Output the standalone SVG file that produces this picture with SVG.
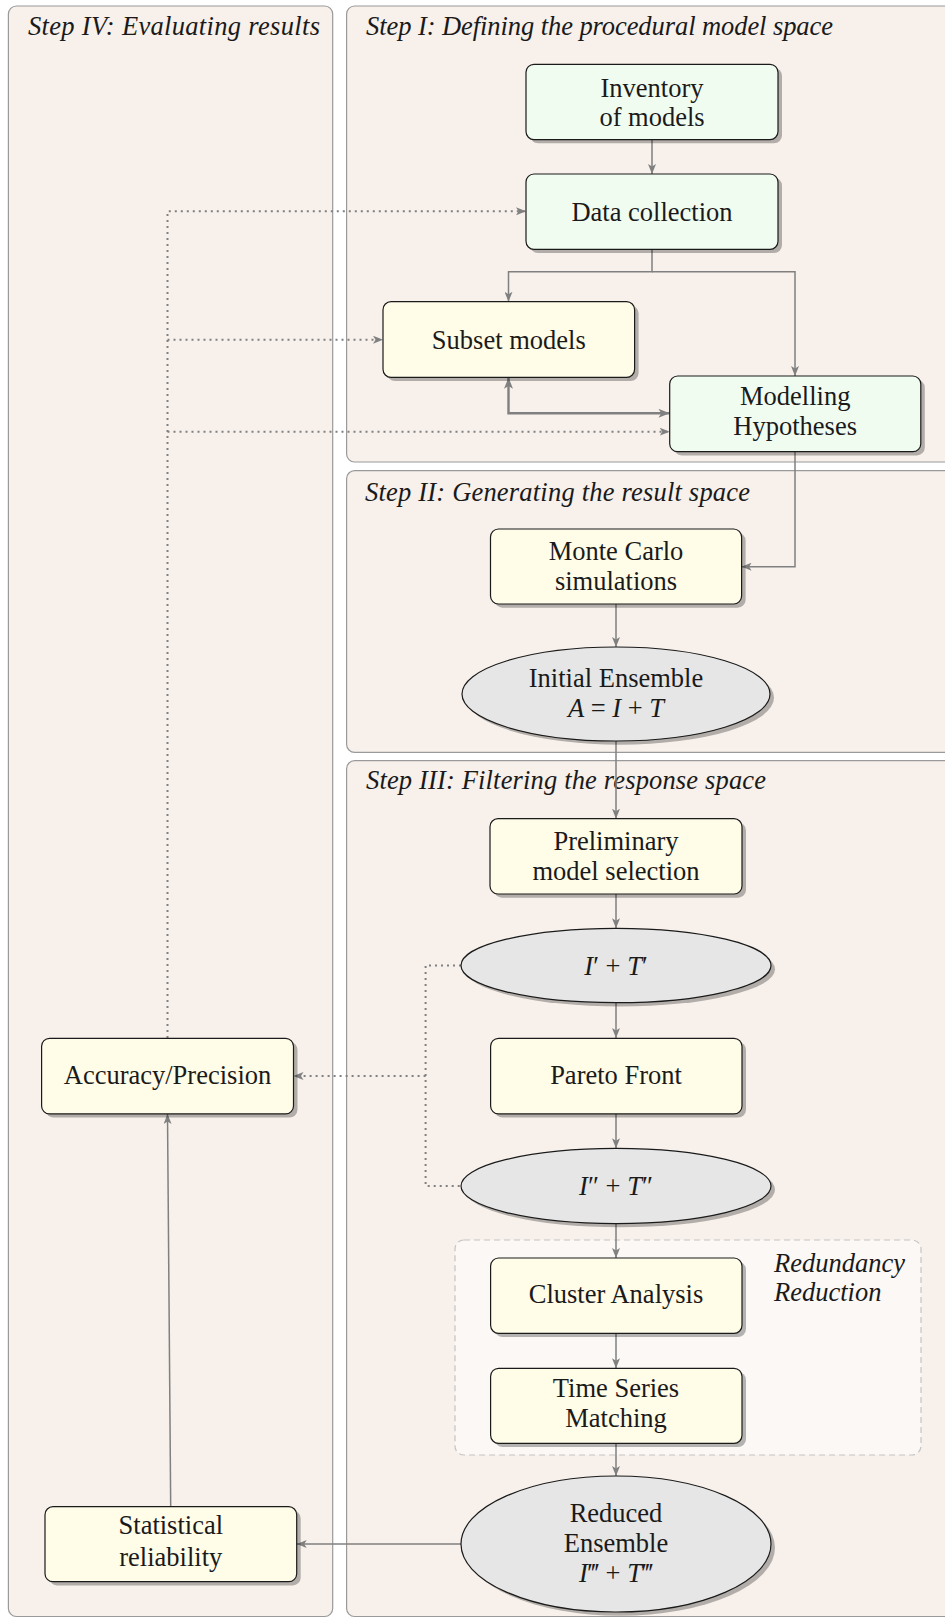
<svg xmlns="http://www.w3.org/2000/svg" width="945" height="1618" viewBox="0 0 945 1618">
<style>
.panel{fill:#f7f0eb;stroke:#9a9a9a;stroke-width:1.2}
.title{font-family:"Liberation Serif","DejaVu Serif",serif;font-style:italic;font-size:26.5px;fill:#1a1a1a}
.t{font-family:"Liberation Serif","DejaVu Serif",serif;font-size:26.5px;fill:#1a1a1a;text-anchor:middle}
.i{font-style:italic}
.green{fill:#f1fcf1;stroke:#1a1a1a;stroke-width:1.2}
.yellow{fill:#fffce8;stroke:#1a1a1a;stroke-width:1.2}
.ell{fill:#e6e6e6;stroke:#1a1a1a;stroke-width:1.2}
.shadow{fill:#000;fill-opacity:0.28}
.conn{fill:none;stroke:#808080;stroke-width:1.5}
.thick{fill:none;stroke:#808080;stroke-width:2.4}
.dot{fill:none;stroke:#808080;stroke-width:2;stroke-dasharray:2 4}
.red{fill:#fbf8f6;stroke:#c4c4c4;stroke-width:1.2;stroke-dasharray:6 4}
</style>
<defs>
<marker id="arr" viewBox="0 0 10 8" refX="10" refY="4" markerWidth="10" markerHeight="8" markerUnits="userSpaceOnUse" orient="auto-start-reverse">
<path d="M0,0 L10,4 L0,8 L2.5,4 z" fill="#808080"/>
</marker>
<marker id="arrB" viewBox="0 0 10 8" refX="10" refY="4" markerWidth="12" markerHeight="9" markerUnits="userSpaceOnUse" orient="auto-start-reverse">
<path d="M0,0 L10,4 L0,8 L2.5,4 z" fill="#808080"/>
</marker>
</defs>

<g id="panels">
<rect class="panel" x="8.4" y="6" width="324.3" height="1610.5" rx="8"/>
<rect class="panel" x="346.6" y="6" width="620" height="456" rx="8"/>
<rect class="panel" x="346.6" y="470.7" width="620" height="281.6" rx="8"/>
<rect class="panel" x="346.6" y="760.7" width="620" height="855.8" rx="8"/>
<text class="title" x="28" y="35" textLength="292" lengthAdjust="spacing">Step IV: Evaluating results</text>
<text class="title" x="366" y="35" textLength="467" lengthAdjust="spacing">Step I: Defining the procedural model space</text>
<text class="title" x="365" y="500.7" textLength="385" lengthAdjust="spacing">Step II: Generating the result space</text>
<text class="title" x="366" y="789" textLength="400" lengthAdjust="spacing">Step III: Filtering the response space</text>
</g>

<g id="redundancy">
<rect class="red" x="455" y="1240" width="466" height="215" rx="9"/>
<text class="title" x="774" y="1271.7">Redundancy</text>
<text class="title" x="774" y="1300.5">Reduction</text>
</g>

<g id="connectors">
<path class="conn" d="M652,139.5 L652,174" marker-end="url(#arr)"/>
<path class="conn" d="M652,249.5 L652,271.7 L508.5,271.7 L508.5,301.7" marker-end="url(#arr)"/>
<path class="conn" d="M652,271.7 L795,271.7 L795,376" marker-end="url(#arr)"/>
<path class="thick" d="M508.5,377.5 L508.5,413.3 L669.7,413.3" marker-start="url(#arrB)" marker-end="url(#arrB)"/>
<path class="conn" d="M795,451.7 L795,566.7 L741.6,566.7" marker-end="url(#arr)"/>
<path class="conn" d="M616,604 L616,647" marker-end="url(#arr)"/>
<path class="conn" d="M616,741 L616,818.7" marker-end="url(#arr)"/>
<path class="conn" d="M616,894 L616,928.3" marker-end="url(#arr)"/>
<path class="conn" d="M616,1003 L616,1038" marker-end="url(#arr)"/>
<path class="conn" d="M616,1114 L616,1148.3" marker-end="url(#arr)"/>
<path class="conn" d="M616,1223.7 L616,1258" marker-end="url(#arr)"/>
<path class="conn" d="M616,1333.3 L616,1368.3" marker-end="url(#arr)"/>
<path class="conn" d="M616,1443.3 L616,1476" marker-end="url(#arr)"/>
<path class="conn" d="M461,1544 L296.7,1544" marker-end="url(#arr)"/>
<path class="conn" d="M170.7,1506.7 L167.5,1114" marker-end="url(#arr)"/>
<path class="dot" d="M167.5,1038 L167.5,211.3 L526,211.3" marker-end="url(#arr)"/>
<path class="dot" d="M167.5,339.7 L383,339.7" marker-end="url(#arr)"/>
<path class="dot" d="M167.5,431.7 L669.7,431.7" marker-end="url(#arr)"/>
<path class="dot" d="M461,965.5 L425.6,965.5 L425.6,1186 L461,1186"/>
<path class="dot" d="M425.6,1076 L293.5,1076" marker-end="url(#arr)"/>
</g>

<g id="inventory">
<rect class="shadow" x="530" y="68" width="252" height="75.3" rx="8"/>
<rect class="green" x="526" y="64.3" width="252" height="75.3" rx="8"/>
<text class="t" x="652" y="96.5">Inventory</text>
<text class="t" x="652" y="125.5">of models</text>
</g>

<g id="data-collection">
<rect class="shadow" x="530" y="177.7" width="252" height="75.3" rx="8"/>
<rect class="green" x="526" y="174" width="252" height="75.3" rx="8"/>
<text class="t" x="652" y="221">Data collection</text>
</g>

<g id="subset-models">
<rect class="shadow" x="387" y="305.4" width="251.6" height="75.6" rx="8"/>
<rect class="yellow" x="383" y="301.7" width="251.6" height="75.6" rx="8"/>
<text class="t" x="508.8" y="348.5">Subset models</text>
</g>

<g id="modelling-hypotheses">
<rect class="shadow" x="673.7" y="379.7" width="251.1" height="75.7" rx="8"/>
<rect class="green" x="669.7" y="376" width="251.1" height="75.7" rx="8"/>
<text class="t" x="795.2" y="405">Modelling</text>
<text class="t" x="795.2" y="435">Hypotheses</text>
</g>

<g id="monte-carlo">
<rect class="shadow" x="494.5" y="532.7" width="251.1" height="75" rx="8"/>
<rect class="yellow" x="490.5" y="529" width="251.1" height="75" rx="8"/>
<text class="t" x="616" y="560">Monte Carlo</text>
<text class="t" x="616" y="589.5">simulations</text>
</g>

<g id="initial-ensemble">
<ellipse class="shadow" cx="620" cy="697.7" rx="154" ry="47"/>
<ellipse class="ell" cx="616" cy="694" rx="154" ry="47"/>
<text class="t" x="616" y="686.7">Initial Ensemble</text>
<text class="t" x="616" y="716.7"><tspan class="i">A</tspan> = <tspan class="i">I</tspan> + <tspan class="i">T</tspan></text>
</g>

<g id="preliminary-selection">
<rect class="shadow" x="494" y="822.4" width="252" height="75.3" rx="8"/>
<rect class="yellow" x="490" y="818.7" width="252" height="75.3" rx="8"/>
<text class="t" x="616" y="850">Preliminary</text>
<text class="t" x="616" y="879.5">model selection</text>
</g>

<g id="i1-t1">
<ellipse class="shadow" cx="620" cy="969.2" rx="155" ry="37.2"/>
<ellipse class="ell" cx="616" cy="965.5" rx="155" ry="37.2"/>
<text class="t" x="616" y="975"><tspan class="i">I</tspan>′ + <tspan class="i">T</tspan>′</text>
</g>

<g id="pareto-front">
<rect class="shadow" x="494.6" y="1042" width="251.4" height="75.6" rx="8"/>
<rect class="yellow" x="490.6" y="1038.3" width="251.4" height="75.6" rx="8"/>
<text class="t" x="616" y="1084">Pareto Front</text>
</g>

<g id="accuracy-precision">
<rect class="shadow" x="45.6" y="1042" width="251.9" height="75.6" rx="8"/>
<rect class="yellow" x="41.6" y="1038.3" width="251.9" height="75.6" rx="8"/>
<text class="t" x="167.5" y="1084">Accuracy/Precision</text>
</g>

<g id="i2-t2">
<ellipse class="shadow" cx="620" cy="1189.7" rx="155" ry="37.6"/>
<ellipse class="ell" cx="616" cy="1186" rx="155" ry="37.6"/>
<text class="t" x="616" y="1195"><tspan class="i">I</tspan>″ + <tspan class="i">T</tspan>″</text>
</g>

<g id="cluster-analysis">
<rect class="shadow" x="494.6" y="1261.7" width="251.4" height="75.3" rx="8"/>
<rect class="yellow" x="490.6" y="1258" width="251.4" height="75.3" rx="8"/>
<text class="t" x="616" y="1303">Cluster Analysis</text>
</g>

<g id="time-series-matching">
<rect class="shadow" x="494.6" y="1372" width="251.4" height="75" rx="8"/>
<rect class="yellow" x="490.6" y="1368.3" width="251.4" height="75" rx="8"/>
<text class="t" x="616" y="1396.7">Time Series</text>
<text class="t" x="616" y="1426.7">Matching</text>
</g>

<g id="reduced-ensemble">
<ellipse class="shadow" cx="620" cy="1547.7" rx="155" ry="68"/>
<ellipse class="ell" cx="616" cy="1544" rx="155" ry="68"/>
<text class="t" x="616" y="1521.7">Reduced</text>
<text class="t" x="616" y="1551.7">Ensemble</text>
<text class="t" x="616" y="1581.7"><tspan class="i">I</tspan>‴ + <tspan class="i">T</tspan>‴</text>
</g>

<g id="statistical-reliability">
<rect class="shadow" x="49" y="1510.4" width="251.7" height="75" rx="8"/>
<rect class="yellow" x="45" y="1506.7" width="251.7" height="75" rx="8"/>
<text class="t" x="170.8" y="1534.3">Statistical</text>
<text class="t" x="170.8" y="1566">reliability</text>
</g>
</svg>
